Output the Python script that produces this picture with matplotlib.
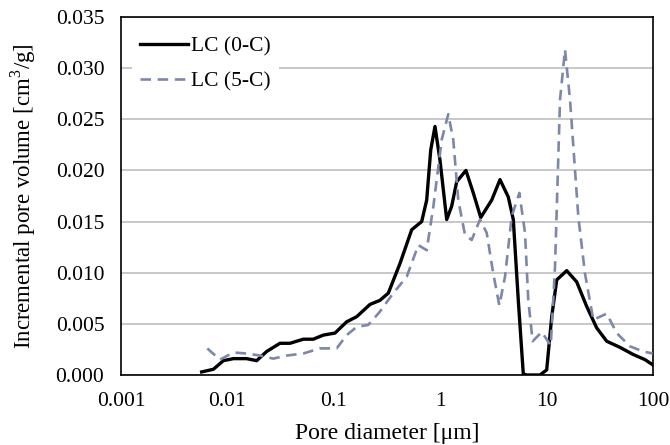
import matplotlib
matplotlib.use("Agg")
import matplotlib.pyplot as plt
from matplotlib.ticker import FixedLocator, FixedFormatter, NullLocator

plt.rcParams['font.family'] = ['Liberation Serif', 'DejaVu Serif']
plt.rcParams['mathtext.fontset'] = 'custom'
plt.rcParams['mathtext.rm'] = 'Liberation Serif'

# LC (0-C): pore diameter [um], incremental pore volume [cm3/g]
d0 = [0.00573, 0.00738, 0.00916, 0.01138, 0.01517, 0.01884, 0.02339, 0.03119, 0.03873,
      0.05164, 0.06412, 0.07962, 0.1026, 0.1321, 0.1641, 0.2188, 0.2716, 0.3251, 0.4188,
      0.5395, 0.6699, 0.7464, 0.8147, 0.8933, 0.9954, 1.151, 1.282, 1.429, 1.746, 2.046,
      2.404, 3.048, 3.648, 4.365, 4.864, 5.420, 6.039, 6.501, 8.670, 10.02, 11.17, 12.45,
      15.45, 19.19, 23.82, 29.58, 36.73, 48.98, 65.31, 84.14, 99.3]
v0 = [0.0003, 0.00056, 0.0014, 0.0016, 0.0016, 0.0014, 0.0023, 0.0031, 0.0031,
      0.0035, 0.0035, 0.0039, 0.0041, 0.0052, 0.0057, 0.0069, 0.0073, 0.0080, 0.0109,
      0.0142, 0.0150, 0.0171, 0.0220, 0.0243, 0.0210, 0.0152, 0.0165, 0.0189, 0.0200, 0.0178,
      0.0154, 0.0171, 0.0191, 0.0174, 0.0152, 0.0073, 0.0001, 0.0, 0.0, 0.0005,
      0.0057, 0.0093, 0.0102, 0.0091, 0.0067, 0.0046, 0.0033, 0.0027, 0.0020, 0.0015, 0.0010]

# LC (5-C)
d5 = [0.00647, 0.00851, 0.01138, 0.01517, 0.02023, 0.02698, 0.03606, 0.05164, 0.07413,
      0.1064, 0.1321, 0.1641, 0.2109, 0.2716, 0.3622, 0.4842, 0.6223, 0.7464, 0.8630,
      1.033, 1.191, 1.327, 1.479, 1.710, 1.977, 2.366, 2.735, 3.155, 3.597, 4.064, 4.699,
      5.546, 6.266, 6.730, 7.396, 8.995, 10.94, 12.00, 13.37, 14.89, 16.60, 19.86, 22.96,
      27.48, 36.73, 45.60, 60.81, 81.10, 99.3]
v5 = [0.0026, 0.0015, 0.0022, 0.0021, 0.0019, 0.0016, 0.0019, 0.0021, 0.0026,
      0.0026, 0.0039, 0.0047, 0.0049, 0.0062, 0.0080, 0.0096, 0.0127, 0.0122, 0.0165,
      0.0230, 0.0255, 0.0230, 0.0171, 0.0137, 0.0132, 0.0152, 0.0139, 0.0099, 0.0068, 0.0096,
      0.0155, 0.0178, 0.0139, 0.0073, 0.0033, 0.0042, 0.0029, 0.0106, 0.0269, 0.0318,
      0.0269, 0.0155, 0.0099, 0.0054, 0.0060, 0.0041, 0.0028, 0.0023, 0.0021]

series_labels = ['LC (0-C)', 'LC (5-C)']
x_ticks = [0.001, 0.01, 0.1, 1, 10, 100]
x_ticklabels = ['0.001', '0.01', '0.1', '1', '10', '100']
y_ticks = [0.0, 0.005, 0.010, 0.015, 0.020, 0.025, 0.030, 0.035]
y_ticklabels = ['0.000', '0.005', '0.010', '0.015', '0.020', '0.025', '0.030', '0.035']

fig = plt.figure(figsize=(6.7, 4.45), dpi=100)
ax = fig.add_axes([121/670, 1-375/445, (653-121)/670, (375-17)/445])

ax.plot(d0, v0, color='black', lw=2.4, label=series_labels[0], zorder=3)
ax.plot(d5, v5, color='#7D87A9', lw=1.9, ls=(0, (4, 2.5)), label=series_labels[1], zorder=3)

ax.set_xscale('log')
ax.set_xlim(0.001, 100)
ax.set_ylim(0, 0.035)
ax.xaxis.set_major_locator(FixedLocator(x_ticks))
ax.xaxis.set_major_formatter(FixedFormatter(x_ticklabels))
ax.xaxis.set_minor_locator(NullLocator())
ax.yaxis.set_major_locator(FixedLocator(y_ticks))
ax.yaxis.set_major_formatter(FixedFormatter(y_ticklabels))
ax.tick_params(axis='both', length=0, labelsize=15.5, pad=12)
ax.grid(axis='y', color='#BFBFBF', lw=1.2, zorder=0)
ax.set_axisbelow(True)
for s in ax.spines.values():
    s.set_color('black')
    s.set_linewidth(1.2)

ax.set_xlabel('Pore diameter [\u03bcm]', fontsize=17, labelpad=9)
ax.set_ylabel('Incremental pore volume [cm$^3$/g]', fontsize=16.5, labelpad=13)

leg = ax.legend(loc='upper left', bbox_to_anchor=(0.0, 1.0), fontsize=15.5, frameon=True,
                fancybox=False, edgecolor='none', facecolor='white', framealpha=1,
                handlelength=2.2, handletextpad=0.15, labelspacing=0.7,
                borderaxespad=0.5)
leg.set_zorder(5)

fig.savefig('out.png', dpi=100)
